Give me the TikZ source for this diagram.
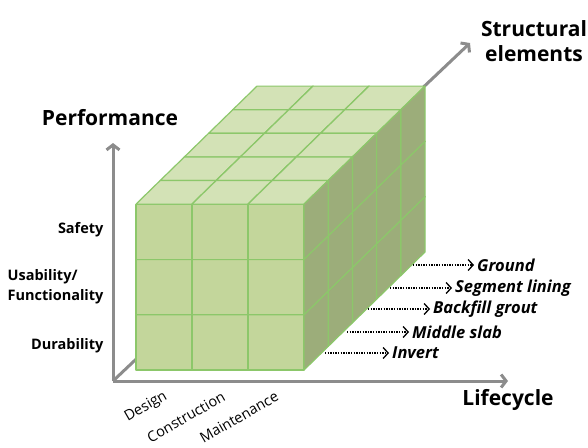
\documentclass[tikz,border=0pt]{standalone}
\usepackage{fontspec}
\setmainfont{Open Sans}
\usetikzlibrary{arrows.meta}
\definecolor{fronthue}{HTML}{C3D69B}
\definecolor{tophue}{HTML}{D3E2B6}
\definecolor{sidehue}{HTML}{9CAD7A}
\definecolor{edgehue}{HTML}{8CC76A}
\definecolor{axishue}{HTML}{8C8C8C}

\begin{document}
\begin{tikzpicture}[x=1pt,y=-1pt,
	axis/.style={draw=axishue, line width=3pt, -{Straight Barb[length=5pt,width=13pt]}},
	face/.style={draw=edgehue, line width=1.2pt, line join=round},
	dimlabel/.style={font=\bfseries\fontsize{21}{25}\selectfont, align=center},
	levellabel/.style={font=\bfseries\fontsize{14.5}{20}\selectfont, anchor=east, align=left},
	phaselabel/.style={font=\fontsize{14.5}{16}\selectfont, rotate=30, inner sep=0pt},
	elemlabel/.style={font=\bfseries\itshape\fontsize{16.5}{18}\selectfont, anchor=west, inner sep=0pt},
	elemarrow/.style={line width=1.3pt, dash pattern=on 1.3pt off 1.3pt, -{Straight Barb[length=5pt,width=11pt]}}]
	\useasboundingbox (0,0) rectangle (588,447);
	\coordinate (origin) at (113,381);
	\coordinate (perftip) at (113,143);
	\coordinate (lifetip) at (508,381);
	\coordinate (elemtip) at (470,43);
	\draw[axis] (origin) -> (perftip);
	\draw[axis] (origin) -> (lifetip);
	\draw[axis] (origin) -> (elemtip);
	\foreach \k in {4,3,...,0}
	\foreach \i in {0,1,2}
	\foreach \j in {0,1,2} {
		\begin{scope}[shift={({136+56*\i+24.2*\k},{370-55.3*\j-23.6*\k})}]
			\draw[face, fill=fronthue] (0,0) rectangle (56,-55.3);
			\draw[face, fill=tophue] (0,-55.3) -- (56,-55.3) -- (80.2,-78.9) -- (24.2,-78.9) -- cycle;
			\draw[face, fill=sidehue] (56,0) -- (80.2,-23.6) -- (80.2,-78.9) -- (56,-55.3) -- cycle;
		\end{scope}
	}
	\node (perf) [dimlabel] at (110,118) {Performance};
	\node (struct) [dimlabel] at (534,41) {Structural\\elements};
	\node (life) [dimlabel] at (508,400) {Lifecycle};
	\node (safety) [levellabel] at (107,230) {Safety};
	\node (usab) [levellabel] at (107,287) {Usability/\\Functionality};
	\node (dura) [levellabel] at (107,346) {Durability};
	\node (design) [phaselabel] at (146,407) {Design};
	\node (constr) [phaselabel] at (186,417) {Construction};
	\node (maint) [phaselabel] at (239,417) {Maintenance};
	\node (ground) [elemlabel] at (477,265) {Ground};
	\node (lining) [elemlabel] at (455,288) {Segment lining};
	\node (grout) [elemlabel] at (433,309) {Backfill grout};
	\node (slab) [elemlabel] at (412,332) {Middle slab};
	\node (invert) [elemlabel] at (392,353) {Invert};
	\coordinate (groundtail) at (413,265);
	\coordinate (liningtail) at (390,288);
	\coordinate (grouttail) at (368,309);
	\coordinate (slabtail) at (347,332);
	\coordinate (inverttail) at (325,353);
	\draw[elemarrow] (groundtail) -> ([xshift=-3pt]ground.west);
	\draw[elemarrow] (liningtail) -> ([xshift=-3pt]lining.west);
	\draw[elemarrow] (grouttail) -> ([xshift=-3pt]grout.west);
	\draw[elemarrow] (slabtail) -> ([xshift=-3pt]slab.west);
	\draw[elemarrow] (inverttail) -> ([xshift=-3pt]invert.west);
\end{tikzpicture}
\end{document}
